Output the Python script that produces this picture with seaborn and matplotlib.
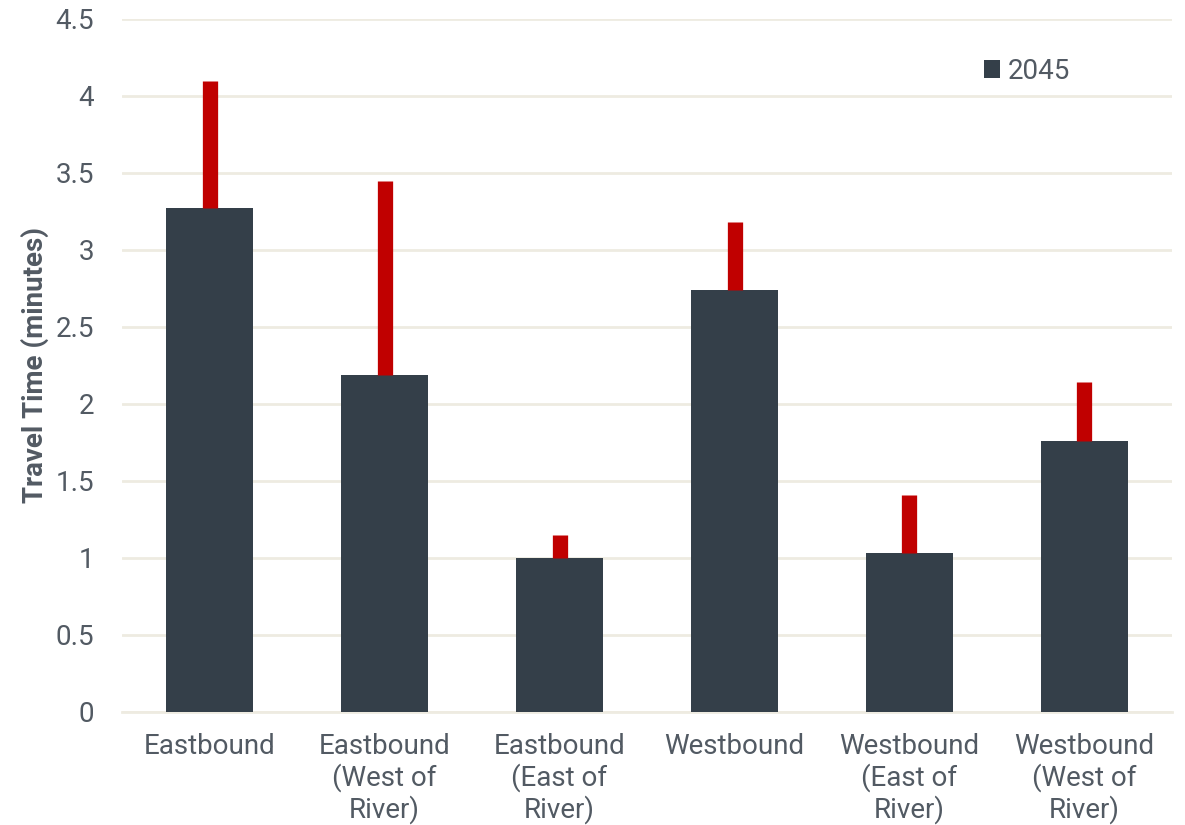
import matplotlib
matplotlib.use("Agg")
import matplotlib.pyplot as plt
import seaborn as sns
import pandas as pd
import numpy as np
from matplotlib.patches import Patch

# Directional travel times for the 2045 scenario
categories = [
    "Eastbound",
    "Eastbound\n(West of\nRiver)",
    "Eastbound\n(East of\nRiver)",
    "Westbound",
    "Westbound\n(East of\nRiver)",
    "Westbound\n(West of\nRiver)",
]
travel_2045 = [3.27, 2.19, 1.00, 2.74, 1.03, 1.76]
upper_range = [4.10, 3.45, 1.15, 3.18, 1.41, 2.14]
y_ticks = [0, 0.5, 1, 1.5, 2, 2.5, 3, 3.5, 4, 4.5]
y_tick_labels = ["0", "0.5", "1", "1.5", "2", "2.5", "3", "3.5", "4", "4.5"]

BAR = "#343f49"
ERR = "#c00000"
TEXT = "#525a63"
GRID = "#eeebe1"

sns.set_theme(style="white")
plt.rcParams["font.family"] = ["Roboto", "DejaVu Sans"]

df = pd.DataFrame({"Direction": categories, "Travel Time": travel_2045})

fig = plt.figure(figsize=(11.85, 8.25), dpi=100)
ax = fig.add_axes([0.103, 0.137, 0.886, 0.840])

sns.barplot(data=df, x="Direction", y="Travel Time", color=BAR,
            width=0.5, saturation=1, ax=ax, zorder=3, linewidth=0)

x = np.arange(len(categories))
vals = np.array(travel_2045)
err_up = np.array(upper_range) - vals
ax.errorbar(x, vals, yerr=[np.zeros_like(err_up), err_up], fmt="none",
            ecolor=ERR, elinewidth=11, capsize=0, zorder=4)

ax.set_ylim(0, 4.5)
ax.set_xlim(-0.5, len(categories) - 0.5)
ax.set_yticks(y_ticks)
ax.set_yticklabels(y_tick_labels)
ax.yaxis.grid(True, color=GRID, linewidth=2, zorder=0)
ax.set_axisbelow(True)
for s in ["top", "right", "left"]:
    ax.spines[s].set_visible(False)
ax.spines["bottom"].set_color(GRID)
ax.spines["bottom"].set_linewidth(2)

ax.tick_params(axis="both", length=0, labelsize=20, colors=TEXT)
ax.tick_params(axis="x", pad=15)
ax.tick_params(axis="y", pad=20)
for lbl in ax.get_xticklabels():
    lbl.set_linespacing(1.15)
    lbl.set_verticalalignment("top")

ax.set_xlabel("")
ax.set_ylabel("Travel Time (minutes)", fontsize=20, fontweight="bold",
              color=TEXT, labelpad=5)

handle = Patch(facecolor=BAR, edgecolor="none")
ax.legend([handle], ["2045"], loc="upper left", bbox_to_anchor=(0.797, 0.98),
          frameon=False, fontsize=20, labelcolor=TEXT, handlelength=0.6,
          handleheight=0.6, handletextpad=0.25)

fig.savefig("out.png", dpi=100, facecolor="white")
